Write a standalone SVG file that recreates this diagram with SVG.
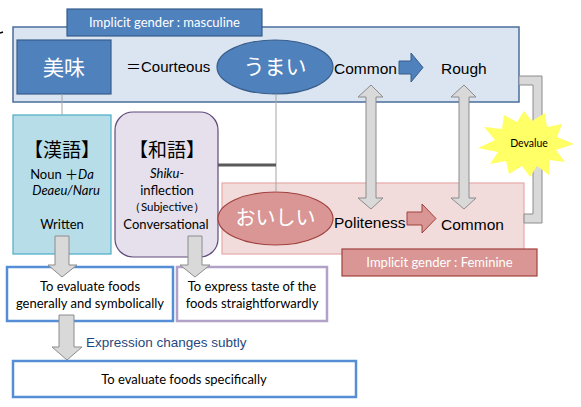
<svg xmlns="http://www.w3.org/2000/svg" width="581" height="407" viewBox="0 0 581 407">
<style>
.lbl{font-family:Lato,"Noto Sans",sans-serif;}
.ar{font-family:"Liberation Sans",Arial,sans-serif;}
.jp{font-family:"Noto Sans CJK JP","Noto Sans",sans-serif;}
.garrow{fill:#d9d9d9;stroke:#8c8c8c;stroke-width:1;}
.thin{stroke:#a6a6a6;stroke-width:1;fill:none;}
</style>
<rect width="581" height="407" fill="#ffffff"/>
<path d="M0,33 L3,32" stroke="#000" stroke-width="1.5"/>

<g id="masculine-box">
  <rect x="13" y="27" width="506" height="75" fill="#dbe5f1" stroke="#4a6d9a" stroke-width="1.5"/>
</g>
<g id="masculine-label">
  <rect x="67" y="9" width="195" height="27" fill="#4f81bd" stroke="#385d8a" stroke-width="1.2"/>
  <text class="lbl" x="164.5" y="27" font-size="13" fill="#ffffff" text-anchor="middle">Implicit gender : masculine</text>
</g>
<g id="bimi">
  <rect x="17" y="40" width="94" height="54" fill="#4f81bd" stroke="#385d8a" stroke-width="1.2"/>
  <text class="jp" x="64" y="75" font-size="21" fill="#ffffff" text-anchor="middle">美味</text>
</g>
<g id="courteous">
  <text class="ar" x="126" y="72" font-size="15" fill="#000"><tspan class="jp">＝</tspan>Courteous</text>
</g>
<g id="umai">
  <ellipse cx="275" cy="67" rx="58" ry="27" fill="#4f81bd" stroke="#385d8a" stroke-width="1.2"/>
  <text class="jp" x="275" y="74" font-size="21" fill="#ffffff" text-anchor="middle">うまい</text>
</g>
<g id="common-top">
  <text class="ar" x="334" y="74" font-size="15.5" fill="#000">Common</text>
  <polygon points="399,61 411,61 411,53 423,67.5 411,82 411,74 399,74" fill="#4f81bd" stroke="#385d8a" stroke-width="1"/>
</g>
<g id="rough">
  <text class="ar" x="441" y="74" font-size="15.5" fill="#000">Rough</text>
</g>

<g id="kango">
  <rect x="13" y="115" width="98" height="139" fill="#b7dee8" stroke="#4bacc6" stroke-width="1.2"/>
  <text class="jp" x="62" y="157" font-size="19" fill="#000" text-anchor="middle">【漢語】</text>
  <text class="lbl" x="62" y="179" font-size="13" fill="#000" text-anchor="middle">Noun <tspan class="jp">＋</tspan><tspan font-style="italic">Da</tspan></text>
  <text class="lbl" x="66" y="195" font-size="13" fill="#000" text-anchor="middle" font-style="italic">Deaeu/Naru</text>
  <text class="lbl" x="62" y="229" font-size="13" fill="#000" text-anchor="middle">Written</text>
</g>
<g id="wago">
  <rect x="115" y="112" width="103" height="145" rx="18" fill="#e5e0ec" stroke="#604a7b" stroke-width="1.2"/>
  <text class="jp" x="167" y="157" font-size="19" fill="#000" text-anchor="middle">【和語】</text>
  <text class="lbl" x="167" y="178" font-size="13" fill="#000" text-anchor="middle" font-style="italic">Shiku-</text>
  <text class="lbl" x="167" y="195" font-size="13" fill="#000" text-anchor="middle">inflection</text>
  <text class="lbl" x="167" y="211" font-size="11.5" fill="#000" text-anchor="middle">（Subjective）</text>
  <text class="lbl" x="166" y="229" font-size="13" fill="#000" text-anchor="middle">Conversational</text>
</g>

<g id="feminine-box">
  <rect x="222" y="183" width="302" height="71" fill="#f2dcdb" stroke="#e6a9a8" stroke-width="1.2"/>
</g>
<g id="oishii">
  <ellipse cx="275.5" cy="218.5" rx="57.5" ry="26.5" fill="#d99694" stroke="#a0413e" stroke-width="1.2"/>
  <text class="jp" x="275.5" y="225" font-size="20" fill="#ffffff" text-anchor="middle">おいしい</text>
</g>
<g id="politeness">
  <text class="ar" x="334" y="228" font-size="15.5" fill="#000">Politeness</text>
  <polygon points="407,212 422,212 422,204 436,218.5 422,233 422,225 407,225" fill="#d99694" stroke="#a0413e" stroke-width="1"/>
</g>
<g id="common-bottom">
  <text class="ar" x="441" y="230" font-size="15.5" fill="#000">Common</text>
</g>
<g id="feminine-label">
  <rect x="342" y="249" width="195" height="27" fill="#d99694" stroke="#a0413e" stroke-width="1.2"/>
  <text class="lbl" x="439.5" y="267" font-size="13" fill="#ffffff" text-anchor="middle">Implicit gender : Feminine</text>
</g>

<g id="eval-general">
  <rect x="7" y="267" width="166" height="54" fill="#ffffff" stroke="#558ed5" stroke-width="2.5"/>
  <text class="lbl" x="90" y="291" font-size="13" fill="#000" text-anchor="middle">To evaluate foods</text>
  <text class="lbl" x="90" y="308" font-size="13" fill="#000" text-anchor="middle">generally and symbolically</text>
</g>
<g id="express-taste">
  <rect x="177" y="267" width="150" height="54" fill="#ffffff" stroke="#b3a2c7" stroke-width="2.5"/>
  <text class="lbl" x="252" y="291" font-size="13" fill="#000" text-anchor="middle">To express taste of the</text>
  <text class="lbl" x="252" y="308" font-size="13" fill="#000" text-anchor="middle">foods straightforwardly</text>
</g>
<g id="expression-label">
  <text class="ar" x="86" y="347" font-size="13.5" fill="#1f497d">Expression changes subtly</text>
</g>
<g id="eval-specific">
  <rect x="13" y="361" width="343" height="36" fill="#ffffff" stroke="#558ed5" stroke-width="2.5"/>
  <text class="lbl" x="184" y="384" font-size="13" fill="#000" text-anchor="middle">To evaluate foods specifically</text>
</g>

<g id="connectors">
  <line class="thin" x1="62" y1="94" x2="62" y2="115"/>
  <line class="thin" x1="276" y1="94" x2="276" y2="192"/>
  <line x1="218" y1="165" x2="276" y2="165" stroke="#595959" stroke-width="3"/>
  <polygon class="garrow" points="519,76 542,76 542,223 524,223 524,214 533,214 533,85 519,85"/>
  <polygon class="garrow" points="371,85 383,97 376,97 376,198 383,198 371,209 358,198 366,198 366,97 358,97"/>
  <polygon class="garrow" points="464,85 476,97 469,97 469,198 476,198 464,209 451,198 459,198 459,97 451,97"/>
  <polygon class="garrow" points="55,236 69,236 69,265 77,265 62,277 48,265 55,265"/>
  <polygon class="garrow" points="188,236 202,236 202,265 210,265 195,277 180,265 188,265"/>
  <polygon class="garrow" points="59,315 74,315 74,347 82,347 67,360 52,347 59,347"/>
</g>

<g id="devalue">
  <polygon fill="#ffff66" points="574,144 556,150 565,162 549,160 549,175 537,166 530,177 522,166 509,174 506,161 490,164 498,152 478,148 495,140 484,127 502,129 504,115 517,122 524,111 532,121 545,113 547,127 562,124 557,137"/>
  <text class="lbl" x="529" y="147" font-size="10.5" fill="#000" text-anchor="middle">Devalue</text>
</g>
</svg>
